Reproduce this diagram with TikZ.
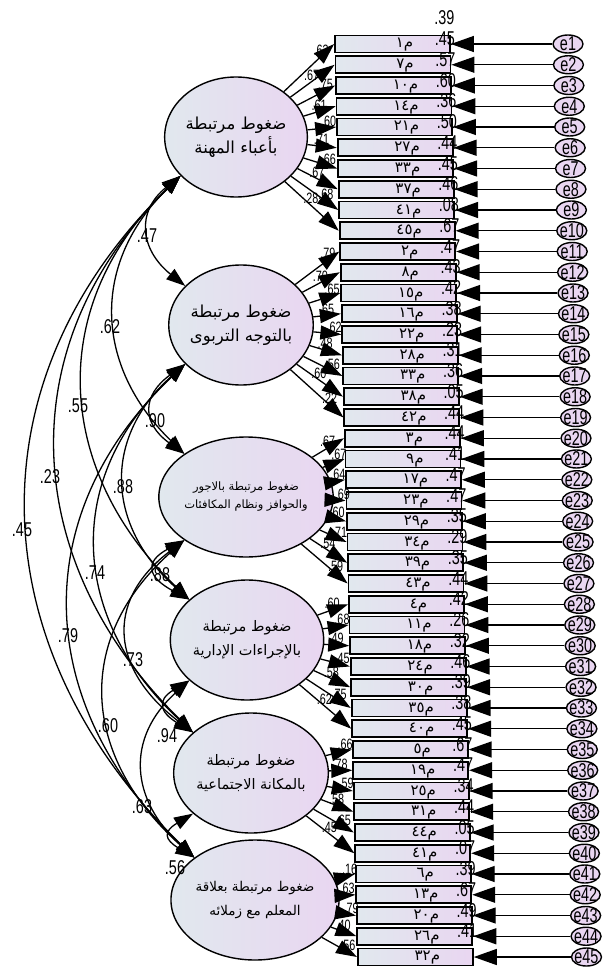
\documentclass[tikz,border=0pt]{standalone}
\usepackage{fontspec}
\setmainfont{Liberation Sans}
\newfontfamily\arabicfont[Script=Arabic]{DejaVu Sans}
\TeXXeTstate=1
\usetikzlibrary{shapes.geometric,arrows.meta}
\definecolor{lavR}{RGB}{233,214,241}
\definecolor{blueL}{RGB}{225,232,238}
\newcommand{\cnum}[1]{\scalebox{0.72}[1]{#1}}
\newcommand{\artxt}[1]{\beginR #1\endR}
\begin{document}
\begin{tikzpicture}[x=1pt,y=-1pt,
  factor/.style={ellipse, draw, line width=1.4pt, minimum width=102pt, minimum height=120pt, left color=blueL, right color=lavR, inner sep=0pt, align=center, font=\arabicfont\fontsize{16.5}{24}\selectfont},
  obs/.style={rectangle, draw, line width=1.8pt, minimum width=115pt, minimum height=17pt, left color=blueL, right color=lavR, inner sep=0pt},
  err/.style={ellipse, draw, line width=1.4pt, minimum width=30pt, minimum height=18pt, fill=lavR, inner sep=0pt},
  blab/.style={inner sep=0pt, font=\arabicfont\fontsize{15}{15}\selectfont},
  elab/.style={inner sep=0pt, font=\fontsize{20}{20}\selectfont},
  nlab/.style={inner sep=0pt, font=\fontsize{20}{20}\selectfont},
  llab/.style={inner sep=0pt, font=\fontsize{15}{15}\selectfont},
  errarrow/.style={line width=1.3pt, -{Triangle[length=23pt,width=16pt]}},
  loadarrow/.style={line width=1.3pt, -{Triangle[length=21pt,width=14pt]}},
  cov/.style={line width=1.3pt, {Triangle[length=19pt,width=13pt]}-{Triangle[length=19pt,width=13pt]}}
]
\path[use as bounding box] (0,0) rectangle (602,971);

% latent factors
\node[factor] (F1) at (236,137) {\artxt{ضغوط مرتبطة}\\\artxt{بأعباء المهنة}};
\node[factor] (F2) at (241,325) {\artxt{ضغوط مرتبطة}\\\artxt{بالتوجه التربوى}};
\node[factor, font=\arabicfont\fontsize{11.5}{18}\selectfont] (F3) at (246,497) {\artxt{ضغوط مرتبطة بالاجور}\\\artxt{والحوافز ونظام المكافئات}};
\node[factor, font=\arabicfont\fontsize{14.5}{24}\selectfont] (F4) at (247,640) {\artxt{ضغوط مرتبطة}\\\artxt{بالإجراءات الإدارية}};
\node[factor, font=\arabicfont\fontsize{14.5}{24}\selectfont] (F5) at (251,773) {\artxt{ضغوط مرتبطة}\\\artxt{بالمكانة الاجتماعية}};
\node[factor, font=\arabicfont\fontsize{13.5}{24}\selectfont] (F6) at (255,900) {\artxt{ضغوط مرتبطة بعلاقة}\\\artxt{المعلم مع زملائه}};

% covariances
\foreach \ia/\ja/\aa/\ca/\va/\lx/\ly [count=\k] in {
  1/2/45/36/.47/147/236, 1/3/90/88/.62/110/327, 1/4/135/130/.55/78/406,
  1/5/173/170/.23/50/477, 1/6/213/208/.45/22/530,
  2/3/43/31/.90/155/421, 2/4/83/74/.88/123/487, 2/5/123/114/.74/95/573,
  2/6/160/152/.79/68/636,
  3/4/41/22/.88/160/575, 3/5/81/62/.73/133/660, 3/6/112/100/.60/108/726,
  4/5/33/20/.94/167/736, 4/6/64/58/.63/142/807,
  5/6/30/18/.56/175/868}{
  \draw[cov] (F\ia.215) .. controls +(-\aa,\ca) and +(-\aa,-\ca) .. (F\ja.145);
  \node[nlab] (cv\k) at (\lx,\ly) {\cnum{\va}};
}

% observed variables, errors, paths
\foreach \i/\lab/\rsq/\ld/\fac in {
 1/١/.39/.63/1, 2/٧/.45/.67/1, 3/١٠/.57/.75/1, 4/١٤/.60/.61/1, 5/٢١/.36/.60/1,
 6/٢٧/.50/.71/1, 7/٣٣/.44/.66/1, 8/٣٧/.45/.67/1, 9/٤١/.46/.68/1, 10/٤٥/.08/.28/1,
 11/٢/.67/.79/2, 12/٨/.47/.70/2, 13/١٥/.43/.65/2, 14/١٦/.42/.65/2, 15/٢٢/.38/.62/2,
 16/٢٨/.23/.48/2, 17/٣٣/.31/.56/2, 18/٣٨/.36/.60/2, 19/٤٢/.05/.22/2,
 20/٣/.44/.67/3, 21/٩/.44/.67/3, 22/١٧/.41/.64/3, 23/٢٣/.47/.69/3, 24/٢٩/.47/.60/3,
 25/٣٤/.35/.71/3, 26/٣٩/.29/.54/3, 27/٤٣/.35/.59/3,
 28/٤/.44/.60/4, 29/١١/.42/.68/4, 30/١٨/.26/.49/4, 31/٢٤/.32/.45/4, 32/٣٠/.46/.58/4,
 33/٣٥/.39/.75/4, 34/٤٠/.38/.62/4,
 35/٥/.45/.66/5, 36/١٩/.67/.78/5, 37/٢٥/.47/.59/5, 38/٣١/.34/.58/5, 39/٤٤/.44/.65/5,
 40/٤١/.05/.45/5,
 41/٦/.07/.16/6, 42/١٣/.39/.63/6, 43/٢٠/.67/.79/6, 44/٢٦/.49/.40/6, 45/٣٢/.41/.56/6}{
  \pgfmathsetmacro{\yy}{44+(\i-1)*20.75}
  \pgfmathsetmacro{\xx}{392.5+(\i-1)*0.52}
  \pgfmathsetmacro{\ex}{568+(\i-1)*0.42}
  \pgfmathsetmacro{\pp}{0.48+0.26*mod(\i,2)}
  \node[obs] (b\i) at (\xx,\yy) {};
  \node[blab] (bl\i) at (\xx+12,\yy+1) {\artxt{م\lab}};
  \node[err] (e\i) at (\ex,\yy) {};
  \node[elab] (et\i) at (\ex,\yy) {\cnum{e\i}};
  \node[nlab, anchor=east] (r\i) at (\xx+62,\yy-26) {\cnum{\rsq}};
  \draw[errarrow] (e\i) -- (b\i.east);
  \draw[loadarrow] (F\fac) -- (b\i.west) node[llab, pos=\pp, above=0.5pt] (ld\i) {\cnum{\ld}};
}
\end{tikzpicture}
\end{document}
